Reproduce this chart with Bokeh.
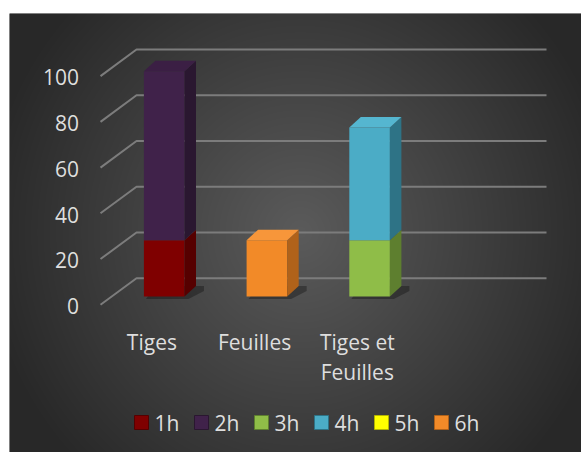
import numpy as np
from bokeh.plotting import figure
from bokeh.models import Range1d, ColumnDataSource
from bokeh.embed import file_html
from bokeh.resources import INLINE
from bokeh.core.properties import value

# ---------------- data ----------------
categories = ["Tiges", "Feuilles", "Tiges et Feuilles"]
category_labels = ["Tiges", "Feuilles", "Tiges et\nFeuilles"]
series_names = ["1h", "2h", "3h", "4h", "5h", "6h"]
v1h = [25, 0, 0]
v2h = [75, 0, 0]
v3h = [0, 0, 25]
v4h = [0, 0, 50]
v5h = [0, 0, 0]
v6h = [0, 25, 0]
y_ticks = [0, 20, 40, 60, 80, 100]

# ---------------- styles ----------------
front_colors = ["#7f0000", "#40224a", "#8fbd48", "#4bacc6", "#ffff00", "#f28a28"]
side_colors = ["#560000", "#2a1730", "#5e7f2f", "#2e7386", "#b3b300", "#b0621a"]
top_colors = ["#8c0a0a", "#3b1f44", "#9dcb56", "#55b6d0", "#ffff40", "#f7963a"]
TEXT_COLOR = "#dedede"
GRID_COLOR = "#7c7c7c"
FONT = "Open Sans"
FONT_SIZE = "21px"

W, H = 581, 452
FL, FT = 9, 13            # white margin left / top
X0, XS = 163.7, 102.7     # px of first category centre, px per category
Y0, KY = 296.0, 2.253     # px of value 0 at bar front, px per unit

def xd(px):
    return (px - X0) / XS

def yd(px):
    return (Y0 - px) / KY

HW = 20.3 / XS
DDX = 11.5 / XS
DDY = 10.5 / KY

p = figure(width=W, height=H, output_backend="svg", toolbar_location=None,
           x_axis_type=None, y_axis_type=None,
           x_range=Range1d(xd(FL), xd(W)), y_range=Range1d(yd(H), yd(FT)),
           min_border_left=FL, min_border_top=FT, min_border_right=0, min_border_bottom=0,
           border_fill_color="white", outline_line_color=None,
           background_fill_color="#404040")

# ---------------- radial background ----------------
fw, fh = W - FL, H - FT
xs_px = np.arange(fw) + FL + 0.5
ys_px = (H - 0.5) - np.arange(fh)
XX, YY = np.meshgrid(xs_px, ys_px)
r = np.sqrt(((XX - 300) / 320.0) ** 2 + ((YY - 232) / 330.0) ** 2)
r = np.clip(r, 0, 1)
g = (91 - r * 51).astype(np.uint8)
img = np.empty((fh, fw), dtype=np.uint32)
view = img.view(dtype=np.uint8).reshape((fh, fw, 4))
view[:, :, 0] = g
view[:, :, 1] = g
view[:, :, 2] = g
view[:, :, 3] = 255
p.image_rgba(image=[img], x=xd(FL), y=yd(H), dw=xd(W) - xd(FL), dh=yd(FT) - yd(H))

# ---------------- 3D gridlines ----------------
GS = 2.287 / KY
OFF_BACK = yd(277.7)
OFF_FRONT = yd(304.3)
x_front, x_back, x_right = xd(100), xd(136), xd(546)
gx, gy = [], []
for t in y_ticks:
    yb = t * GS + OFF_BACK
    yf = t * GS + OFF_FRONT
    gx.append([x_front, x_back, x_right])
    gy.append([yf, yb, yb])
p.multi_line(gx, gy, line_color=GRID_COLOR, line_width=2)

p.text(x=[xd(78.5)] * len(y_ticks), y=[t * GS + OFF_FRONT - 1.2 / KY for t in y_ticks],
       text=[str(t) for t in y_ticks], text_font=value(FONT), text_font_size=FONT_SIZE,
       text_color=TEXT_COLOR, text_align="right", text_baseline="middle")

# ---------------- bars ----------------
series = [v1h, v2h, v3h, v4h, v5h, v6h]
n = len(categories)
idx = list(range(n))
totals = [sum(s[i] for s in series) for i in idx]

# shadows
shx, shy = [], []
for i in idx:
    if totals[i] <= 0:
        continue
    xl, xr = i - HW, i + HW
    shx.append([xl + 2 / XS, xr + 4 / XS, xr + DDX + 8 / XS, xr + DDX + 8 / XS, xl + DDX])
    shy.append([-2.5 / KY, -2.5 / KY, DDY - 5 / KY, DDY, DDY])
p.patches(shx, shy, fill_color="black", fill_alpha=0.3, line_color=None)

base = [0.0] * n
top_series = [None] * n
for k, vals in enumerate(series):
    bottoms = list(base)
    tops = [bottoms[i] + vals[i] for i in idx]
    src = ColumnDataSource(dict(left=[i - HW for i in idx], right=[i + HW for i in idx],
                                bottom=bottoms, top=tops))
    p.quad(left="left", right="right", bottom="bottom", top="top", source=src,
           fill_color=front_colors[k], line_color=None)
    sx, sy = [], []
    for i in idx:
        if vals[i] > 0:
            sx.append([i + HW, i + HW + DDX, i + HW + DDX, i + HW])
            sy.append([bottoms[i], bottoms[i] + DDY, tops[i] + DDY, tops[i]])
            top_series[i] = k
    if sx:
        p.patches(sx, sy, fill_color=side_colors[k], line_color=None)
    base = tops

tx, ty, tc = [], [], []
for i in idx:
    if top_series[i] is None:
        continue
    t = totals[i]
    tx.append([i - HW, i - HW + DDX, i + HW + DDX, i + HW])
    ty.append([t, t + DDY, t + DDY, t])
    tc.append(top_colors[top_series[i]])
p.patches(tx, ty, fill_color=tc, line_color=None)

# ---------------- category labels ----------------
lx, ly, lt = [], [], []
for i, lab in enumerate(category_labels):
    for j, line in enumerate(lab.split("\n")):
        lx.append(i - 12.3 / XS)
        ly.append(yd(341.7 + 30 * j))
        lt.append(line)
p.text(x=lx, y=ly, text=lt, text_font=value(FONT), text_font_size=FONT_SIZE,
       text_color=TEXT_COLOR, text_align="center", text_baseline="alphabetic")

# ---------------- legend ----------------
leg_y = yd(422)
mk_x = [xd(141 + 60 * k) for k in range(len(series_names))]
p.rect(x=mk_x, y=[leg_y] * len(series_names), width=14 / XS, height=14 / KY,
       fill_color=front_colors, line_color=side_colors, line_width=1)
p.text(x=[xd(154 + 60 * k) for k in range(len(series_names))], y=[leg_y] * len(series_names),
       text=series_names, text_font=value(FONT), text_font_size=FONT_SIZE,
       text_color=TEXT_COLOR, text_align="left", text_baseline="middle")

open("out.html", "w").write(file_html(p, INLINE))
